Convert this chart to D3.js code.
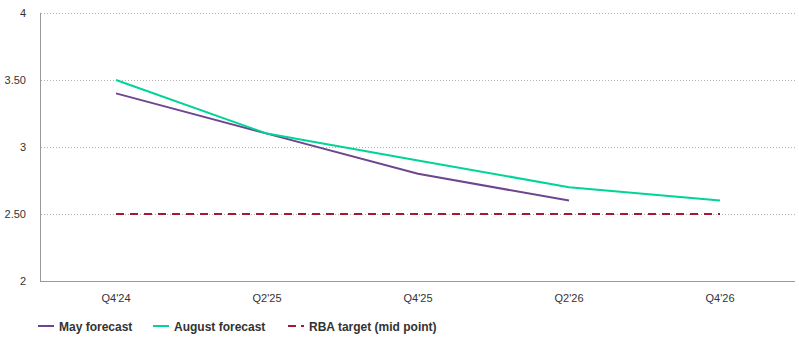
<!DOCTYPE html>
<html><head><meta charset="utf-8">
<script src="https://cdn.jsdelivr.net/npm/d3@7"></script>
<style>body{margin:0;background:#fff;}svg{display:block;font-family:"Liberation Sans",Arial,sans-serif;}</style>
</head><body><svg id="c" width="799" height="339"></svg>
<script>
const categories = ["Q4'24","Q2'25","Q4'25","Q2'26","Q4'26"];
const mayForecast = [3.4, 3.1, 2.8, 2.6, null];
const augustForecast = [3.5, 3.1, 2.9, 2.7, 2.6];
const rbaTarget = [2.5, 2.5, 2.5, 2.5, 2.5];
const yTicks = [2, 2.5, 3, 3.5, 4];
const yTickLabels = ["2","2.50","3","3.50","4"];
const seriesNames = ["May forecast","August forecast","RBA target (mid point)"];

const svg = d3.select("#c");
const x = d3.scaleBand().domain(categories).range([40.5, 795.5]);
const y = d3.scaleLinear().domain([2,4]).range([281, 13]);
const cx = d => x(d) + x.bandwidth()/2;

// gridlines
svg.append("g").selectAll("line").data(yTicks.filter(v=>v>2)).join("line")
  .attr("x1",41).attr("x2",795).attr("y1",d=>Math.round(y(d))+0.5).attr("y2",d=>Math.round(y(d))+0.5)
  .attr("stroke","#b3b3b3").attr("stroke-dasharray","1,2").attr("stroke-width",1);

// axes lines
svg.append("line").attr("x1",40.5).attr("x2",40.5).attr("y1",13).attr("y2",281.5).attr("stroke","#999");
svg.append("line").attr("x1",40).attr("x2",795).attr("y1",281.5).attr("y2",281.5).attr("stroke","#999");

// y labels
svg.append("g").selectAll("text").data(yTicks).join("text")
  .attr("x",26).attr("y",d=>y(d)+4).attr("text-anchor","end")
  .attr("font-size",11).attr("fill","#333").text((d,i)=>yTickLabels[i]);
// x labels
svg.append("g").selectAll("text").data(categories).join("text")
  .attr("x",d=>cx(d)).attr("y",302).attr("text-anchor","middle")
  .attr("font-size",11).attr("fill","#333").text(d=>d);

const line = d3.line().defined(d=>d.v!=null).x(d=>cx(d.c)).y(d=>y(d.v));
const mk = arr => categories.map((c,i)=>({c, v:arr[i]}));

svg.append("path").datum(mk(rbaTarget)).attr("d",line).attr("fill","none")
  .attr("stroke","#a6192e").attr("stroke-width",2).attr("stroke-dasharray","8,6");
svg.append("path").datum(mk(mayForecast)).attr("d",line).attr("fill","none")
  .attr("stroke","#6e4690").attr("stroke-width",2);
svg.append("path").datum(mk(augustForecast)).attr("d",line).attr("fill","none")
  .attr("stroke","#00d496").attr("stroke-width",2);

// legend
const legend = [
  {name:seriesNames[0], color:"#6e4690", dash:null, x:38},
  {name:seriesNames[1], color:"#00d496", dash:null, x:153},
  {name:seriesNames[2], color:"#a6192e", dash:"8,5", x:288}
];
const lg = svg.append("g").selectAll("g").data(legend).join("g");
lg.append("line").attr("x1",d=>d.x).attr("x2",d=>d.x+16).attr("y1",326).attr("y2",326)
  .attr("stroke",d=>d.color).attr("stroke-width",2).attr("stroke-dasharray",d=>d.dash);
lg.append("text").attr("x",d=>d.x+21).attr("y",330.5).attr("font-size",12).attr("font-weight","bold")
  .attr("fill","#333").text(d=>d.name);
</script></body></html>
